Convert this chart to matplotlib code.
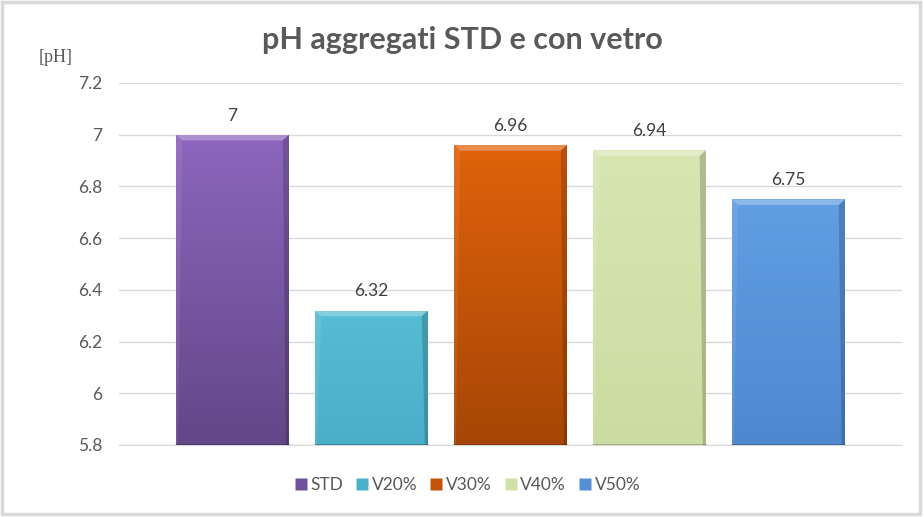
import matplotlib
matplotlib.use("Agg")
import matplotlib.pyplot as plt
import numpy as np
from matplotlib.colors import LinearSegmentedColormap
from matplotlib.lines import Line2D
from matplotlib.patches import Rectangle, Polygon

categories = ["STD", "V20%", "V30%", "V40%", "V50%"]
values = [7.0, 6.32, 6.96, 6.94, 6.75]
value_labels = ["7", "6.32", "6.96", "6.94", "6.75"]
yticks = [5.8, 6.0, 6.2, 6.4, 6.6, 6.8, 7.0, 7.2]
ytick_labels = ["5.8", "6", "6.2", "6.4", "6.6", "6.8", "7", "7.2"]
title = "pH aggregati STD e con vetro"
ylabel = "[pH]"

top_colors = ["#8c66bd", "#56bdd4", "#e0620b", "#d8e6b2", "#619ee2"]
bot_colors = ["#634788", "#4aaec8", "#a64606", "#cbdca2", "#4f88cf"]
legend_colors = ["#6f509a", "#4bb0c9", "#c45208", "#cfe0a8", "#568fd6"]

FONT = ["Lato", "DejaVu Sans"]
GREY = "#595959"

fig = plt.figure(figsize=(9.24, 5.17), dpi=100)
ax = fig.add_axes([119/924, 1-445/517, 783/924, 362/517])

x = np.arange(len(categories))
width = 113/139
ax.set_xlim(-2.817 + 2, 2.817 + 2)
ax.set_ylim(5.8, 7.2)

bars = ax.bar(x, np.array(values) - 5.8, bottom=5.8, width=width,
              color="none", edgecolor="none", zorder=3)

for b, tc, bc in zip(bars, top_colors, bot_colors):
    x0, y0 = b.get_x(), b.get_y()
    w, h = b.get_width(), b.get_height()
    cmap = LinearSegmentedColormap.from_list("g", [bc, tc])
    grad = np.linspace(0, 1, 256).reshape(-1, 1)
    im = ax.imshow(grad, cmap=cmap, aspect="auto", origin="lower",
                   extent=(x0, x0 + w, y0, y0 + h), zorder=3)
    im.set_clip_path(b)
    bh = 0.022
    bw = 0.045
    top = y0 + h
    ax.add_patch(Polygon([(x0, top), (x0 + w, top), (x0 + w - bw, top - bh), (x0 + bw, top - bh)],
                         closed=True, facecolor="white", alpha=0.28, edgecolor="none", zorder=4))
    ax.add_patch(Polygon([(x0 + w, top), (x0 + w, y0), (x0 + w - bw*0.5, y0), (x0 + w - bw, top - bh)],
                         closed=True, facecolor="black", alpha=0.18, edgecolor="none", zorder=4))
    ax.add_patch(Polygon([(x0, top), (x0, y0), (x0 + bw*0.3, y0), (x0 + bw, top - bh)],
                         closed=True, facecolor="white", alpha=0.08, edgecolor="none", zorder=4))
    ax.plot([x0, x0 + w], [y0, y0], color="black", alpha=0.25, lw=1.2, zorder=4)

for xi, v, lab in zip(x, values, value_labels):
    ax.annotate(lab, (xi, v), xytext=(0, 8), textcoords="offset points",
                ha="center", va="bottom", fontsize=12.5, color="#404040", family=FONT)

ax.set_yticks(yticks)
ax.set_yticklabels(ytick_labels, fontsize=12.5, color=GREY, family=FONT)
ax.tick_params(axis="y", length=0, pad=12)
ax.set_xticks([])
ax.grid(axis="y", color="#d9d9d9", lw=1, zorder=0)
ax.set_axisbelow(True)
for s in ax.spines.values():
    s.set_visible(False)
ax.spines["bottom"].set_visible(True)
ax.spines["bottom"].set_color("#d9d9d9")

fig.text(0.5, 1-40/517, title, ha="center", va="center", fontsize=22,
         fontweight="bold", color=GREY, family=FONT)
fig.text(56/924, 1-57/517, ylabel, ha="center", va="center", fontsize=13,
         color=GREY, family=["Liberation Serif", "DejaVu Serif"])

handles = [Line2D([], [], marker="s", linestyle="none", markersize=8,
                  markerfacecolor=c, markeredgecolor="none") for c in legend_colors]
fig.legend(handles, categories, loc="center", bbox_to_anchor=(0.505, 1-485/517),
           ncol=5, frameon=False, handletextpad=0.1, columnspacing=0.65,
           handlelength=0.9, labelcolor=GREY, prop={"family": FONT, "size": 12.5})

fig.add_artist(Rectangle((0.002, 0.006), 0.994, 0.99, transform=fig.transFigure,
                         fill=False, edgecolor="#d9d9d9", lw=2.5))

fig.savefig("out.png", dpi=100)
